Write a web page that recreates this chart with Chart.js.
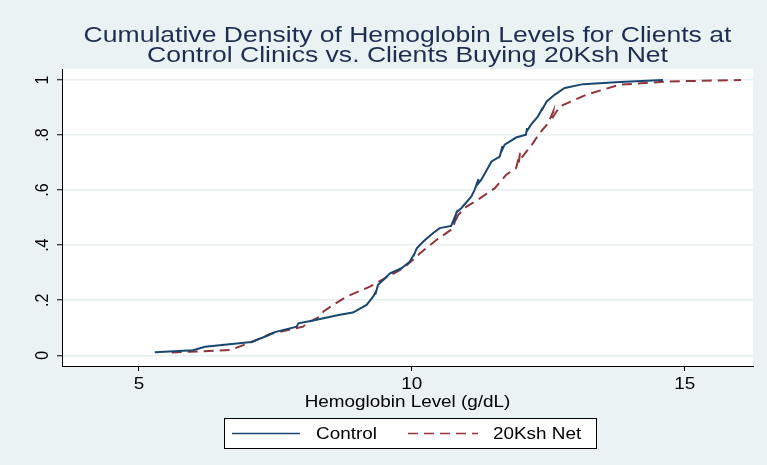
<!DOCTYPE html>
<html>
<head>
<meta charset="utf-8">
<title>Cumulative Density of Hemoglobin Levels</title>
<script src="https://cdn.jsdelivr.net/npm/chart.js@4.4.0/dist/chart.umd.min.js"></script>
<style>
  html, body { margin: 0; padding: 0; background: #eaf2f3; }
  canvas { display: block; }
</style>
</head>
<body>
<canvas id="cdfChart" width="767" height="465"></canvas>
<script>
// Control clinics: hemoglobin level (g/dL) and cumulative share of clients
const controlHb = [5.29, 5.99, 6.21, 7.06, 7.34, 7.49, 7.89, 7.92, 8.19, 8.68, 8.92, 9.17, 9.29, 9.35, 9.33, 9.38,
    9.51, 9.60, 9.81, 9.96, 10.05, 10.03, 10.09, 10.21, 10.39, 10.51, 10.72, 10.79, 10.77, 10.82, 10.91, 11.09,
    11.15, 11.22, 11.20, 11.27, 11.46, 11.61, 11.66, 11.64, 11.70, 11.91, 12.09, 12.11, 12.10, 12.18, 12.31,
    12.40, 12.38, 12.47, 12.62, 12.80, 13.14, 13.81, 14.60];
const controlCum = [0.011, 0.018, 0.031, 0.048, 0.070, 0.084, 0.104, 0.116, 0.126, 0.147, 0.155, 0.183, 0.213, 0.235, 0.220, 0.256,
    0.280, 0.298, 0.316, 0.340, 0.370, 0.360, 0.389, 0.413, 0.444, 0.462, 0.470, 0.504, 0.480, 0.520, 0.535, 0.577,
    0.601, 0.640, 0.620, 0.637, 0.704, 0.722, 0.760, 0.740, 0.765, 0.791, 0.801, 0.825, 0.812, 0.837, 0.868,
    0.900, 0.890, 0.922, 0.947, 0.971, 0.985, 0.993, 1.0];

// Clients buying the 20Ksh net
const netHb = [5.60, 6.67, 7.09, 7.40, 8.01, 8.07, 8.31, 8.38, 8.56, 8.80, 9.23, 9.54, 9.84, 10.09, 10.15, 10.45,
    10.76, 10.80, 10.78, 10.85, 11.00, 11.21, 11.52, 11.73, 11.91, 11.98, 11.96, 12.02, 12.22, 12.34, 12.50,
    12.59, 12.57, 12.60, 12.71, 13.20, 13.81, 14.73, 16.03];
const netCum = [0.010, 0.019, 0.050, 0.077, 0.104, 0.116, 0.140, 0.159, 0.183, 0.213, 0.249, 0.284, 0.316, 0.359, 0.371, 0.419,
    0.462, 0.500, 0.480, 0.510, 0.540, 0.565, 0.607, 0.656, 0.680, 0.735, 0.700, 0.720, 0.771, 0.807, 0.844,
    0.886, 0.860, 0.870, 0.904, 0.947, 0.983, 0.995, 1.0];

const xTicks = [5, 10, 15];
const yTicks = [0, 0.2, 0.4, 0.6, 0.8, 1];
const yTickLabels = ['0', '.2', '.4', '.6', '.8', '1'];
const titleLines = ['Cumulative Density of Hemoglobin Levels for Clients at',
    'Control Clinics vs. Clients Buying 20Ksh Net'];
const xTitle = 'Hemoglobin Level (g/dL)';
const seriesNames = ['Control', '20Ksh Net'];

const FONT = "'Liberation Sans', Arial, sans-serif";
const STRETCH = 1.18; // the exported graph is wider than it was drawn, so is its text

function stretchedText(ctx, text, x, y, size, align, color, rotate) {
    ctx.save();
    ctx.font = size + 'px ' + FONT;
    ctx.fillStyle = color || '#000';
    ctx.textAlign = align || 'left';
    ctx.textBaseline = 'alphabetic';
    ctx.translate(x, y);
    ctx.scale(STRETCH, 1);
    if (rotate) ctx.rotate(-Math.PI / 2);
    ctx.fillText(text, 0, 0);
    ctx.restore();
}

function toPoints(xs, ys) {
    return xs.map((x, i) => ({ x: x, y: ys[i] }));
}

// Stata style frame: grey-blue graph region, white plot region
const regionPlugin = {
    id: 'regions',
    beforeDraw(chart) {
        const ctx = chart.ctx;
        const area = chart.chartArea;
        ctx.save();
        ctx.fillStyle = '#eaf2f3';
        ctx.fillRect(0, 0, chart.width, chart.height);
        ctx.fillStyle = '#ffffff';
        ctx.fillRect(area.left, area.top, area.right - area.left, area.bottom - area.top);
        ctx.restore();
    }
};

// Title, tick labels, axis title and the boxed legend
const textPlugin = {
    id: 'texts',
    afterDraw(chart) {
        const ctx = chart.ctx;
        const area = chart.chartArea;
        const xScale = chart.scales.x;
        const yScale = chart.scales.y;
        const midX = (area.left + area.right) / 2;

        stretchedText(ctx, titleLines[0], midX, 42, 22.5, 'center', '#1f2d50');
        stretchedText(ctx, titleLines[1], midX, 62, 22.5, 'center', '#1f2d50');

        xTicks.forEach(v => {
            stretchedText(ctx, String(v), xScale.getPixelForValue(v), 389, 16, 'center', '#000');
        });
        yTicks.forEach((v, i) => {
            stretchedText(ctx, yTickLabels[i], 48, yScale.getPixelForValue(v), 16, 'center', '#000', true);
        });
        stretchedText(ctx, xTitle, midX, 407, 16, 'center', '#000');

        // legend
        const ds = chart.data.datasets;
        ctx.save();
        ctx.fillStyle = '#ffffff';
        ctx.fillRect(224, 418, 372, 30);
        ctx.strokeStyle = '#000';
        ctx.lineWidth = 1;
        ctx.strokeRect(224.5, 418.5, 372, 30);
        const samples = [[232, 300, 316], [408, 478, 493]];
        samples.forEach((s, i) => {
            ctx.beginPath();
            ctx.strokeStyle = ds[i].borderColor;
            ctx.lineWidth = 1.5;
            ctx.setLineDash(ds[i].borderDash || []);
            ctx.moveTo(s[0], 433.5);
            ctx.lineTo(s[1], 433.5);
            ctx.stroke();
            ctx.setLineDash([]);
            stretchedText(ctx, seriesNames[i], s[2], 439, 16, 'left', '#000');
        });
        ctx.restore();
    }
};

new Chart(document.getElementById('cdfChart'), {
    type: 'scatter',
    data: {
        datasets: [
            {
                label: seriesNames[0],
                data: toPoints(controlHb, controlCum),
                showLine: true,
                borderColor: '#1a476f',
                borderWidth: 2,
                pointRadius: 0,
                tension: 0
            },
            {
                label: seriesNames[1],
                data: toPoints(netHb, netCum),
                showLine: true,
                borderColor: '#90353b',
                borderWidth: 2,
                borderDash: [10, 6],
                pointRadius: 0,
                tension: 0
            }
        ]
    },
    options: {
        responsive: false,
        animation: false,
        layout: { padding: { top: 69, right: 14, bottom: 0, left: 0 } },
        plugins: {
            legend: { display: false },
            title: { display: false },
            tooltip: { enabled: false }
        },
        scales: {
            x: {
                type: 'linear',
                min: 3.59,
                max: 16.25,
                afterBuildTicks: s => { s.ticks = xTicks.map(v => ({ value: v })); },
                afterFit: s => { s.height = 99; },
                ticks: { display: false },
                grid: { drawOnChartArea: false, tickLength: 5, tickColor: '#000' },
                border: { color: '#000', width: 1 }
            },
            y: {
                type: 'linear',
                min: -0.039,
                max: 1.04,
                afterBuildTicks: s => { s.ticks = yTicks.map(v => ({ value: v })); },
                afterFit: s => { s.width = 62; },
                ticks: { display: false },
                grid: { color: '#e6eef0', lineWidth: 1.5, tickLength: 5, tickColor: '#000', tickWidth: 1 },
                border: { color: '#000', width: 1 }
            }
        }
    },
    plugins: [regionPlugin, textPlugin]
});
</script>
</body>
</html>
